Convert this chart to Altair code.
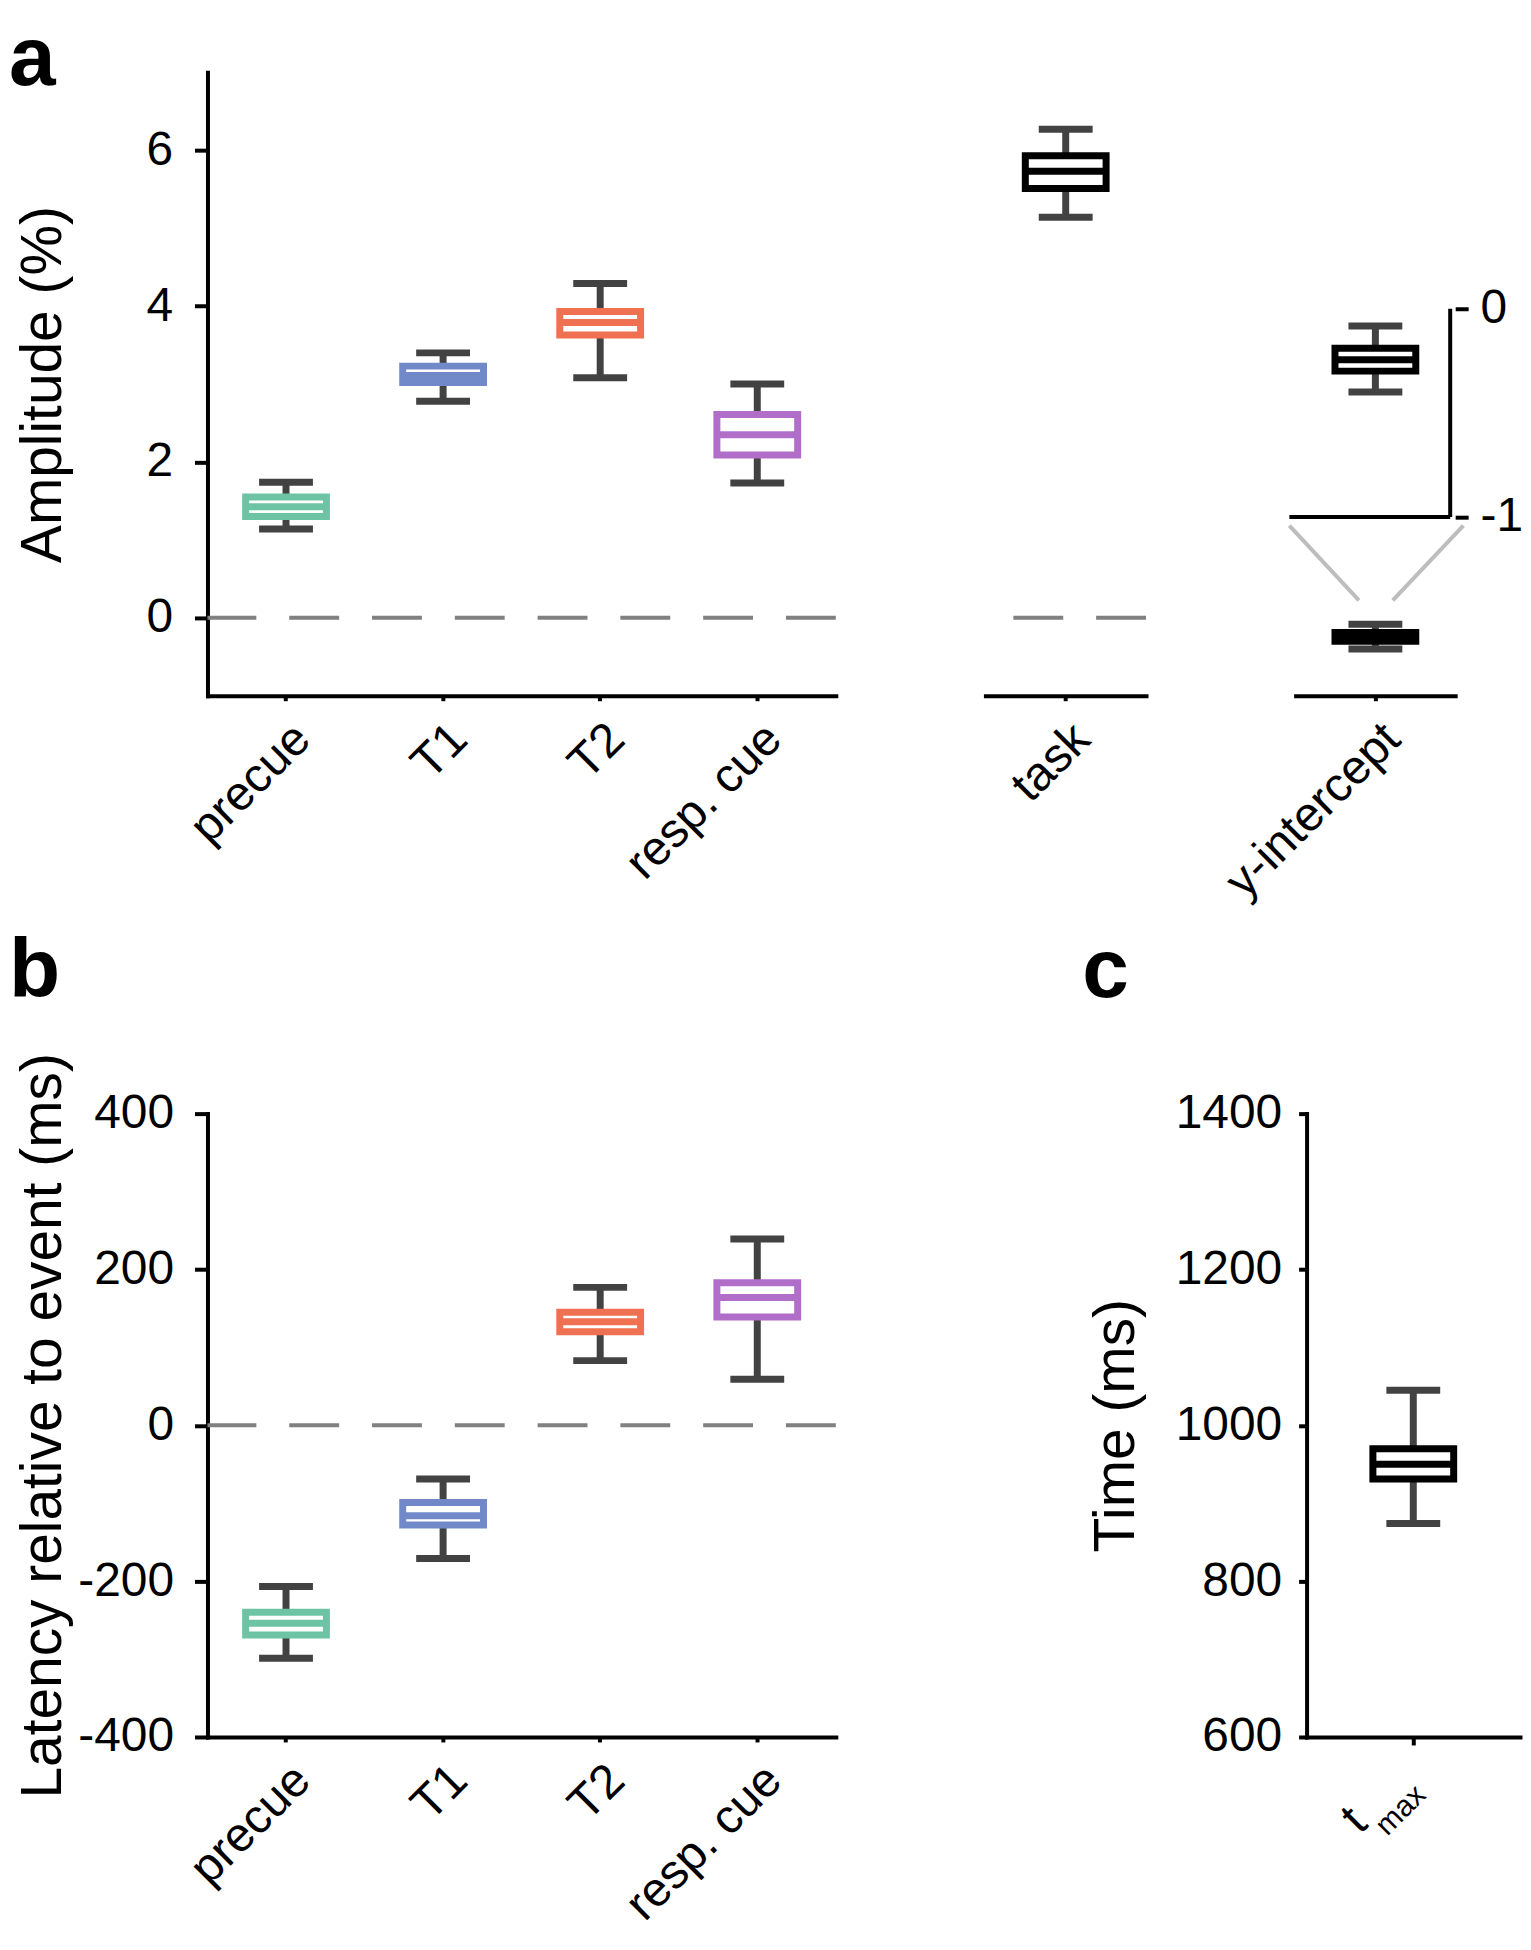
import altair as alt
import pandas as pd

FONT = "Liberation Sans"
WHISKER = "#424242"
ZERO = "#808080"

# ---------------- data ----------------
a_events = ["precue", "T1", "T2", "resp. cue"]
a_colors = ["#6cc4a4", "#7189c8", "#f07052", "#b06ec8"]
a_lo = [1.14, 2.78, 3.08, 1.73]
a_q1 = [1.30, 3.02, 3.63, 2.09]
a_med = [1.425, 3.11, 3.79, 2.35]
a_q3 = [1.55, 3.23, 3.93, 2.61]
a_hi = [1.74, 3.40, 4.29, 3.00]

task_label = ["task"]
task_stats = [5.14, 5.51, 5.73, 5.93, 6.27]      # lo, q1, median, q3, hi
yint_stats = [-0.40, -0.30, -0.245, -0.19, -0.083]

b_lo = [-299, -171, 83, 59]
b_q1 = [-269, -128, 120, 139]
b_med = [-254, -116, 133, 164]
b_q3 = [-240, -99, 145, 183]
b_hi = [-207, -69, 177, 239]

c_label = ["tmax"]
c_stats = [874, 931, 950, 970, 1045]

# inset zoom guide lines (x in panel units, y in amplitude units)
guide_x = [-0.075, 1.088]
guide_x2 = [0.39, 0.616]
guide_y = [1.182, 1.182]
guide_y2 = [0.223, 0.223]

# ---------------- helpers ----------------
def stats_df(field, names, lo, q1, med, q3, hi):
    return pd.DataFrame({field: names, "lo": lo, "q1": q1, "med": med, "q3": q3, "hi": hi})


def boxes(df, x, yscale, yaxis, stroke, color, first_axis=None):
    base = alt.Chart(df)

    def Y(f, ax=yaxis):
        return alt.Y(f"{f}:Q", scale=yscale, axis=ax)

    whisk = base.mark_rule(color=WHISKER, strokeWidth=7, opacity=1).encode(
        x=x, y=Y("lo", first_axis if first_axis is not None else yaxis), y2="hi:Q")
    cap_lo = base.mark_tick(color=WHISKER, thickness=7, size=54, orient="horizontal", opacity=1).encode(
        x=x, y=Y("lo"))
    cap_hi = base.mark_tick(color=WHISKER, thickness=7, size=54, orient="horizontal", opacity=1).encode(
        x=x, y=Y("hi"))
    box = base.mark_bar(fill="white", strokeWidth=7, size=81, opacity=1).encode(
        x=x, y=Y("q1"), y2="q3:Q", stroke=stroke)
    med = base.mark_tick(thickness=7, size=81, orient="horizontal", opacity=1).encode(
        x=x, y=Y("med"), color=color)
    return [whisk, cap_lo, cap_hi, box, med]


def zero_line(yscale, yaxis):
    return alt.Chart(pd.DataFrame({"y": [0]})).mark_rule(
        color=ZERO, strokeWidth=4, strokeDash=[50, 33]).encode(y=alt.Y("y:Q", scale=yscale, axis=yaxis))


def letter(txt, x, y):
    return alt.Chart(pd.DataFrame({"t": [txt]})).mark_text(
        font=FONT, fontSize=84, fontWeight="bold", align="left", baseline="alphabetic", color="black"
    ).encode(x=alt.value(x), y=alt.value(y), text="t:N")


H = 625
A1_W, A2_W, A3_W = 630, 161, 160
B_W, C_W = 630, 214

x_rot = dict(labelAngle=315, labelAlign="right", labelBaseline="top", labelPadding=14, title=None)

# ---------------- panel a ----------------
amp_scale = alt.Scale(domain=[-1, 7], nice=False, zero=False)
amp_axis = alt.Axis(values=[0, 2, 4, 6], title="Amplitude (%)", titleX=-147, titleY=H / 2,
                    titleAngle=270, titleBaseline="alphabetic", labelPadding=22, tickSize=13)

ev_color_scale = alt.Scale(domain=a_events, range=a_colors)
a_df = stats_df("event", a_events, a_lo, a_q1, a_med, a_q3, a_hi)
x_ev = alt.X("event:N", sort=a_events,
             scale=alt.Scale(domain=a_events, paddingInner=0, paddingOuter=0),
             axis=alt.Axis(**x_rot))

a1 = alt.layer(
    zero_line(amp_scale, amp_axis),
    *boxes(a_df, x_ev, amp_scale, amp_axis,
           alt.Stroke("event:N", scale=ev_color_scale, legend=None),
           alt.Color("event:N", scale=ev_color_scale, legend=None)),
    letter("a", -199, 13),
).properties(width=A1_W, height=H)

task_df = stats_df("event", task_label, *[[v] for v in task_stats])
x_task = alt.X("event:N", scale=alt.Scale(domain=task_label, paddingInner=0, paddingOuter=0),
               axis=alt.Axis(**x_rot))
a2 = alt.layer(
    zero_line(amp_scale, None),
    *boxes(task_df, x_task, amp_scale, None, alt.value("black"), alt.value("black")),
).properties(width=A2_W, height=H)

# y-intercept panel with magnified inset scale
inset_scale = alt.Scale(domain=[-1.858, 1.134], nice=False, zero=False)
inset_axis = alt.Axis(orient="right", values=[0, -1], domain=False, tickSize=13, labelPadding=12,
                      title=None, labelExpr="'' + datum.value", labelAlign="left")
x_q = alt.X("x:Q", scale=alt.Scale(domain=[0, 1], nice=False, zero=False),
            axis=alt.Axis(values=[0.5], labelExpr="'y-intercept'", **x_rot))

yint_df = stats_df("lab", ["y-intercept"], *[[v] for v in yint_stats])
yint_df["x"] = 0.5

guides = alt.Chart(pd.DataFrame({"x": guide_x, "x2": guide_x2, "y": guide_y, "y2": guide_y2})).mark_rule(
    color="#bdbdbd", strokeWidth=4).encode(
    x=x_q, x2="x2:Q", y=alt.Y("y:Q", scale=amp_scale, axis=None), y2="y2:Q")

inset_vline = alt.Chart(pd.DataFrame({"x": [1.0], "y": [0.0], "y2": [-1.0]})).mark_rule(
    color="black", strokeWidth=4).encode(x=x_q, y=alt.Y("y:Q", scale=inset_scale, axis=None), y2="y2:Q")
inset_hline = alt.Chart(pd.DataFrame({"x": [-0.075], "x2": [1.0], "y": [-1.0]})).mark_rule(
    color="black", strokeWidth=4).encode(x=x_q, x2="x2:Q", y=alt.Y("y:Q", scale=inset_scale, axis=None))

a3 = alt.layer(
    alt.Chart(pd.DataFrame({"y": [0], "x": [0.5]})).mark_rule(
        color=ZERO, strokeWidth=4, strokeDash=[50, 33]).encode(
        x=x_q, y=alt.Y("y:Q", scale=amp_scale, axis=None)),
    *boxes(yint_df, x_q, amp_scale, None, alt.value("black"), alt.value("black")),
    guides,
    *boxes(yint_df, x_q, inset_scale, None, alt.value("black"), alt.value("black"), first_axis=inset_axis),
    inset_vline,
    inset_hline,
).resolve_scale(y="independent").properties(width=A3_W, height=H)

row_a = alt.hconcat(a1, a2, a3, spacing=150, bounds="flush")

# ---------------- panel b ----------------
lat_scale = alt.Scale(domain=[-400, 400], nice=False, zero=False)
lat_axis = alt.Axis(values=[-400, -200, 0, 200, 400], title="Latency relative to event (ms)",
                    titleX=-147, titleY=H / 2, titleAngle=270, titleBaseline="alphabetic",
                    labelPadding=21, tickSize=13, labelExpr="'' + datum.value")
b_df = stats_df("event", a_events, b_lo, b_q1, b_med, b_q3, b_hi)
b = alt.layer(
    zero_line(lat_scale, lat_axis),
    *boxes(b_df, x_ev, lat_scale, lat_axis,
           alt.Stroke("event:N", scale=ev_color_scale, legend=None),
           alt.Color("event:N", scale=ev_color_scale, legend=None)),
    letter("b", -199, -117),
).properties(width=B_W, height=H)

# ---------------- panel c ----------------
time_scale = alt.Scale(domain=[600, 1400], nice=False, zero=False)
time_axis = alt.Axis(values=[600, 800, 1000, 1200, 1400], title="Time (ms)",
                     titleX=-174, titleY=H / 2, titleAngle=270, titleBaseline="alphabetic",
                     labelPadding=17, tickSize=8, labelExpr="'' + datum.value")
c_df = stats_df("event", c_label, *[[v] for v in c_stats])
x_c = alt.X("event:N", scale=alt.Scale(domain=c_label, paddingInner=0, paddingOuter=0),
            axis=alt.Axis(labels=False, title=None, tickSize=8))
t_main = alt.Chart(pd.DataFrame({"t": ["t"]})).mark_text(
    font=FONT, fontSize=48, angle=315, align="right", baseline="alphabetic", color="black"
).encode(x=alt.value(63), y=alt.value(714), text="t:N")
t_sub = alt.Chart(pd.DataFrame({"t": ["max"]})).mark_text(
    font=FONT, fontSize=30, angle=315, align="left", baseline="alphabetic", color="black"
).encode(x=alt.value(81), y=alt.value(725), text="t:N")

c = alt.layer(
    *boxes(c_df, x_c, time_scale, time_axis, alt.value("black"), alt.value("black")),
    letter("c", -225, -117),
    t_main,
    t_sub,
).properties(width=C_W, height=H)

row_b = alt.hconcat(b, c, spacing=472, bounds="flush")

chart = alt.vconcat(row_a, row_b, spacing=23).properties(
    padding={"left": 1, "top": 8, "right": 0, "bottom": 0}
).configure(font=FONT).configure_axis(
    domainColor="black", domainWidth=4, tickColor="black", tickWidth=4,
    labelFont=FONT, labelFontSize=48, labelColor="black", labelLimit=0,
    titleFont=FONT, titleFontSize=57, titleFontWeight="normal", titleColor="black",
    grid=False, domainCap="square",
).configure_view(stroke=None)

chart.save("out.html", embed_options={"renderer": "svg", "actions": False})
